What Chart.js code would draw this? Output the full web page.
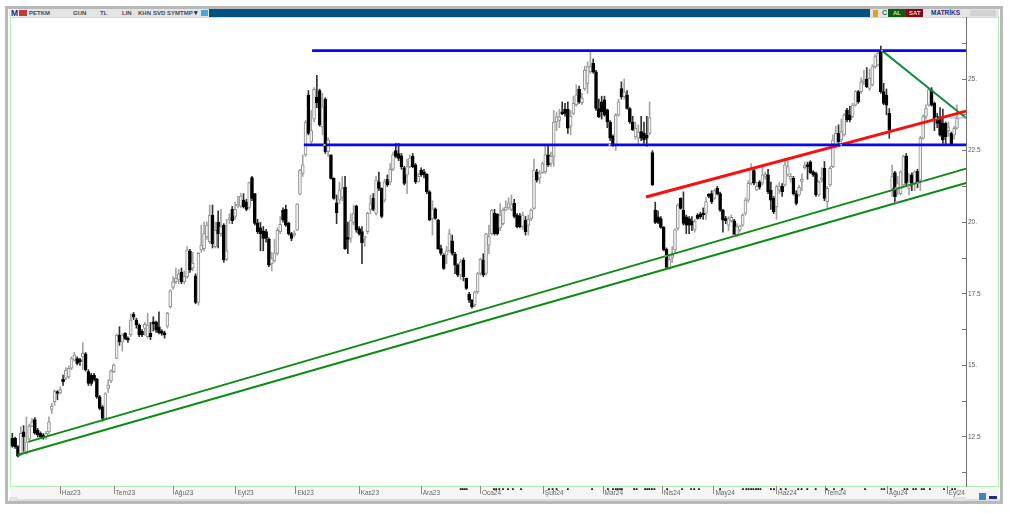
<!DOCTYPE html>
<html lang="tr">
<head>
<meta charset="utf-8">
<title>PETKM</title>
<script src="https://cdn.jsdelivr.net/npm/chart.js@4"></script>
<style>
html,body{margin:0;padding:0;background:#fff;width:1009px;height:513px;overflow:hidden}
#stage{position:absolute;left:0;top:0;width:1009px;height:513px;filter:blur(0.5px);font-family:"Liberation Sans",Arial,sans-serif}
.box{position:absolute}
.t{position:absolute;font-size:6px;font-weight:bold;line-height:8px;color:#4a4a55;white-space:nowrap}
canvas{position:absolute;left:0;top:0}
</style>
</head>
<body>
<div id="stage">
  <div class="box" style="left:5px;top:6px;width:998px;height:498px;background:#b9b9b9"></div>
  <div class="box" style="left:8px;top:9px;width:992px;height:492px;background:#fff"></div>
  <div class="box" style="left:9px;top:9px;width:990px;height:8px;background:#e4e4e4"></div>
  <div class="box" style="left:209px;top:9px;width:661px;height:8px;background:#03527f"></div>
  <div class="box" style="left:10px;top:17px;box-sizing:border-box;width:989px;height:470px;border:1px solid #b4efb4"></div>
  <div class="box" style="left:11px;top:487px;width:988px;height:12px;background:#f6f6f6"></div>
  <div class="box" style="left:9px;top:499px;width:991px;height:2px;background:#dcdcdc"></div>

  <div class="box" style="left:10px;top:9px;width:8px;height:8px;background:#f4f4f4"></div>
  <span class="t" style="left:11px;top:9px;font-size:8.5px;color:#1b2a6b">M</span>
  <div class="box" style="left:19px;top:10px;width:8px;height:6px;background:#c33a3a"></div>
  <span class="t" style="left:29px;top:9px">PETKM</span>
  <span class="t" style="left:73px;top:9px">GUN</span>
  <span class="t" style="left:100px;top:9px">TL</span>
  <span class="t" style="left:122px;top:9px">LIN</span>
  <span class="t" style="left:138px;top:9px">KHN</span>
  <span class="t" style="left:153px;top:9px">SVD</span>
  <span class="t" style="left:167px;top:9px">SYM</span>
  <span class="t" style="left:180px;top:9px">TMP</span>
  <span class="t" style="left:194px;top:9px;font-size:7px;color:#1b2a6b">▾</span>
  <div class="box" style="left:201px;top:10px;width:7px;height:6px;background:#45a9e0"></div>

  <div class="box" style="left:873px;top:10px;width:5px;height:7px;background:#e0a030"></div>
  <span class="t" style="left:882px;top:9px;font-size:7px;color:#127a50">C</span>
  <div class="box" style="left:888px;top:9px;width:18px;height:8px;background:#0d5d17"></div>
  <span class="t" style="left:893px;top:9px;color:#cfe8cf">AL</span>
  <div class="box" style="left:906px;top:9px;width:17px;height:8px;background:#7a0b18"></div>
  <span class="t" style="left:909px;top:9px;color:#f0d0d0">SAT</span>
  <span class="t" style="left:931px;top:9px;font-size:6.5px;color:#2c2c7a">MATRİKS</span>
  <div class="box" style="left:970px;top:10px;width:26px;height:6px;background:#d2d2d2"></div>

  <div class="box" style="left:979px;top:493px;width:7px;height:7px;background:#4a7fc0"></div>
  <div class="box" style="left:989px;top:496px;width:8px;height:3px;background:#1c2f80"></div>
  <div class="box" style="left:10px;top:497px;width:7px;height:4px;background:#e2e2e2"></div>
  <div class="box" style="left:953px;top:497px;width:13px;height:4px;background:#e2e2e2"></div>

  <canvas id="chart" width="1009" height="513"></canvas>
</div>
<script>
// Candle prices (TL)
const opens = [
12.45,12.45,12.16,11.87,12.68,11.93,12.42,12.88,13.11,12.74,
12.63,12.57,12.51,12.68,13.46,13.73,14.08,14.04,14.51,14.55,
14.6,14.9,15.18,15.24,15.18,15.3,15.4,14.78,14.66,14.66,
14.51,13.9,13.55,13.15,14.2,14.46,14.78,15.24,16.06,15.82,
16.12,15.94,16.06,16.79,16.58,16.41,16.2,16.29,16.0,16.12,
16.52,16.52,16.35,16.2,16.14,16.37,17.05,17.72,17.92,18.0,
18.25,17.92,18.1,18.99,18.4,18.13,17.2,19.03,19.08,19.49,
19.32,20.25,19.15,20.0,19.6,19.9,18.7,20.08,20.45,20.2,
20.56,20.56,20.77,20.71,20.52,21.56,21.0,19.98,19.8,19.7,
19.67,19.4,18.55,18.65,18.91,19.67,20.42,20.45,19.96,19.6,
19.55,19.72,20.98,21.7,22.35,24.44,22.8,23.6,24.36,24.6,
23.33,24.3,22.46,22.35,21.53,20.68,20.77,20.87,21.22,19.45,
19.43,19.98,20.56,19.78,19.67,19.43,19.67,20.43,20.83,20.31,
21.41,21.18,20.77,21.5,21.41,21.85,22.5,22.4,22.32,21.9,
21.65,21.94,22.3,22.0,21.41,21.82,21.76,21.68,21.06,20.13,
20.47,20.07,19.08,18.85,18.85,19.0,19.35,18.89,18.5,18.15,
18.68,18.04,17.48,17.28,17.12,17.57,18.21,18.68,18.21,19.2,
19.6,20.31,20.28,19.8,19.95,20.42,20.5,20.45,20.66,20.25,
20.21,19.85,20.07,19.9,20.13,20.48,21.76,21.55,21.73,21.76,
22.35,22.05,22.3,23.5,23.55,23.83,23.95,23.94,23.35,23.8,
24.1,24.65,24.17,24.65,24.85,25.25,25.55,25.25,23.97,24.2,
24.27,23.92,23.5,23.0,22.7,23.74,24.67,24.38,24.44,23.97,
23.5,22.98,22.93,23.16,23.1,23.04,23.1,22.43,20.42,20.19,
20.13,19.82,19.05,18.39,18.77,19.03,19.78,20.83,20.42,20.19,
20.13,20.05,19.73,20.25,20.28,20.33,20.31,20.95,21.0,20.83,
21.18,21.0,20.42,20.13,19.9,20.05,20.05,19.55,19.73,19.9,
20.31,20.77,21.36,21.8,21.12,21.41,21.36,21.6,21.65,21.12,
20.83,20.54,21.12,21.26,21.3,21.65,21.5,21.53,21.0,20.95,
21.42,21.9,21.98,22.11,21.76,21.7,20.95,21.47,21.88,20.72,
21.3,21.94,22.7,23.1,22.87,23.05,23.92,23.74,23.69,24.09,
24.56,24.56,24.9,25.0,24.67,24.79,25.43,25.49,26.0,24.56,
24.44,23.8,21.18,21.73,21.18,21.0,21.3,22.31,21.18,21.65,
21.36,21.78,21.47,22.93,23.69,24.09,24.62,24.15,23.69,23.63,
23.45,23.45,23.2,23.1,23.04,23.28];
const highs = [
12.63,12.5,12.2,12.86,12.9,13.2,12.95,13.15,13.18,12.8,
12.68,12.62,12.7,13.2,13.68,14.15,14.12,14.25,14.66,14.92,
14.98,15.3,15.46,15.3,15.25,15.79,15.45,14.85,14.72,14.72,
14.55,13.95,13.6,14.05,14.5,14.85,15.05,16.1,16.35,16.1,
16.15,16.0,16.8,16.85,16.65,16.45,16.25,16.5,16.82,16.5,
16.7,16.55,16.87,16.25,16.2,16.85,17.65,18.1,18.4,18.35,
18.4,18.3,19.15,19.05,18.95,18.2,18.95,19.9,20.0,20.0,
20.6,20.6,20.0,20.4,20.45,19.95,20.1,20.3,20.55,20.7,
20.9,21.0,21.0,20.8,21.4,21.6,21.0,20.1,20.0,19.85,
19.75,19.45,18.95,19.4,19.8,20.2,20.5,20.6,20.0,19.65,
19.7,20.65,21.85,22.35,23.55,24.6,23.9,24.7,25.13,24.65,
24.5,24.35,22.95,22.35,21.55,20.95,21.4,21.6,21.6,20.0,
20.3,20.6,20.6,19.85,19.85,19.5,20.35,20.95,21.0,21.6,
21.75,21.2,21.5,21.65,22.05,22.45,22.75,22.75,22.4,21.95,
22.2,22.35,22.4,22.05,21.7,21.9,21.85,21.7,21.1,20.75,
20.5,20.1,19.2,18.9,19.15,19.75,19.55,18.95,18.55,18.7,
18.75,18.05,17.55,17.3,17.6,18.25,18.75,18.9,19.62,19.9,
20.45,20.45,20.3,20.65,20.5,20.75,20.85,20.95,20.8,20.3,
20.3,20.35,20.2,20.25,20.47,22.2,21.85,21.8,22.1,22.7,
22.7,22.45,23.9,23.85,23.95,24.2,24.15,24.2,23.9,24.4,
24.8,24.75,24.5,25.45,25.6,26.0,25.7,25.3,24.3,24.4,
24.4,23.95,23.55,23.05,23.8,24.3,24.9,25.0,24.6,24.0,
23.7,23.5,23.4,23.7,23.5,23.7,24.2,22.5,20.7,20.4,
20.2,19.85,19.1,18.8,19.15,19.78,20.65,20.85,21.06,20.25,
20.2,20.2,20.1,20.3,20.35,20.5,20.85,21.0,21.1,21.15,
21.25,21.05,20.45,20.2,20.2,20.25,20.1,19.95,19.9,20.3,
20.85,21.45,22.05,21.85,21.4,21.45,22.0,21.75,21.85,21.4,
20.9,21.3,21.4,21.35,22.23,22.2,21.7,21.6,21.1,21.3,
21.7,22.1,22.1,22.15,21.8,21.75,21.45,21.9,22.12,21.25,
21.95,23.05,23.35,23.4,23.6,23.8,23.98,24.05,24.15,24.6,
24.6,25.05,25.3,25.4,25.35,25.5,25.85,26.0,26.15,24.85,
24.65,23.97,22.0,21.78,21.6,21.8,22.35,22.4,21.7,21.72,
21.8,21.85,23.0,23.75,24.1,24.7,24.7,24.2,23.8,24.0,
23.95,23.5,23.5,23.15,23.35,24.1];
const lows = [
12.14,12.1,11.8,11.85,12.0,11.9,12.4,12.85,12.6,12.5,
12.45,12.42,12.42,12.6,13.32,13.6,13.8,14.0,14.3,14.5,
14.55,14.85,15.15,15.02,15.0,14.85,14.8,14.3,14.3,14.45,
13.85,13.45,13.05,13.1,14.05,14.4,14.75,15.24,15.7,15.5,
15.9,15.8,16.0,16.6,16.3,16.0,16.0,16.05,15.95,15.9,
16.2,16.15,16.1,16.05,15.95,16.3,17.0,17.65,17.85,17.85,
17.85,17.85,18.05,18.25,18.3,17.15,17.1,18.95,19.0,19.4,
19.25,19.1,19.1,19.1,19.5,18.6,18.65,19.95,19.95,20.1,
20.5,20.5,20.5,20.4,20.45,20.75,19.9,19.6,19.0,19.0,
19.3,18.45,18.3,18.6,18.85,19.6,20.0,19.85,19.55,19.35,
19.5,19.7,20.95,21.6,22.3,23.05,22.75,23.5,24.0,23.35,
23.05,22.4,22.3,21.5,20.8,19.95,20.65,20.75,19.05,18.9,
19.3,19.9,19.65,19.55,18.55,19.15,19.6,20.3,20.4,20.25,
21.1,20.15,20.7,21.25,21.3,21.8,22.25,22.15,21.85,21.3,
21.0,21.9,21.9,21.35,21.4,21.6,21.55,21.0,20.05,19.55,
20.1,19.05,18.85,18.35,18.55,18.95,18.85,18.2,18.1,18.0,
17.95,17.65,17.2,17.0,17.05,17.5,18.15,18.1,18.15,18.9,
19.55,19.55,19.55,19.7,19.9,20.4,20.45,20.4,20.15,19.8,
19.8,19.75,19.55,19.55,20.05,20.45,21.4,21.35,21.7,21.7,
21.95,21.95,21.95,23.2,23.3,23.75,23.7,23.1,23.05,23.75,
24.05,24.15,24.1,24.6,24.5,25.2,25.2,23.9,23.65,23.6,
23.7,23.3,22.85,22.65,22.5,23.7,24.3,24.3,23.95,23.45,
23.2,22.9,22.75,22.85,22.75,22.65,23.05,21.28,19.95,19.95,
19.78,19.0,18.4,18.35,18.6,18.95,19.72,20.45,19.9,19.6,
19.6,19.7,19.65,20.1,20.12,20.1,20.1,20.85,20.65,20.8,
20.95,20.38,19.65,19.95,19.7,20.0,19.5,19.5,19.65,19.85,
20.25,20.7,21.3,21.3,21.1,21.15,21.3,21.5,21.0,20.45,
20.3,20.1,21.0,20.9,21.25,21.6,21.4,20.95,20.6,20.9,
21.1,21.85,21.5,21.7,21.6,20.9,20.9,21.4,20.75,20.5,
21.25,21.9,22.6,22.65,22.8,23.0,23.5,23.5,23.65,24.05,
24.15,24.5,24.8,24.7,24.6,24.75,25.38,25.45,24.5,24.1,
23.75,22.93,20.9,20.7,20.95,20.95,21.25,21.25,20.95,21.1,
21.1,21.2,21.1,22.9,23.6,24.05,24.05,23.2,23.3,23.0,
22.75,22.7,23.0,22.7,22.9,23.25];
const closes = [
12.18,12.16,11.83,12.63,12.51,12.33,12.88,13.03,12.63,12.57,
12.51,12.47,12.63,13.03,13.58,14.1,14.02,14.16,14.43,14.84,
14.9,15.24,15.36,15.07,15.13,15.42,14.84,14.37,14.37,14.51,
13.9,13.5,13.15,14.02,14.31,14.8,15.01,16.06,15.82,16.06,
15.94,15.88,16.58,16.68,16.41,16.06,16.06,16.43,16.41,16.0,
16.44,16.23,16.14,16.12,16.06,16.82,17.6,17.92,18.04,18.2,
17.92,18.1,19.03,18.33,18.56,17.2,18.91,19.2,19.6,19.9,
20.25,19.24,19.72,19.6,19.84,18.68,19.0,20.14,20.05,20.45,
20.6,20.91,20.54,20.45,21.38,20.83,19.96,19.67,19.6,19.43,
19.43,18.5,18.73,18.93,19.72,19.93,20.08,19.9,19.6,19.43,
19.6,20.63,21.82,22.0,23.5,23.1,23.2,24.64,24.17,23.4,
24.03,22.46,22.87,21.53,20.83,20.33,21.12,21.2,19.08,19.4,
20.07,20.3,19.73,19.6,19.28,19.45,20.31,20.65,20.45,21.47,
21.18,20.2,21.41,21.3,21.85,22.35,22.3,22.23,21.94,21.35,
21.94,22.25,21.94,21.41,21.6,21.65,21.65,21.06,20.08,20.47,
20.13,19.08,18.91,18.39,19.0,19.6,18.91,18.5,18.15,18.62,
18.1,17.69,17.28,17.05,17.57,18.21,18.7,18.16,19.59,19.5,
20.42,19.6,19.6,20.25,20.42,20.53,20.68,20.63,20.2,19.84,
19.84,20.25,19.67,20.1,20.42,21.82,21.47,21.7,22.05,22.35,
22.0,22.3,23.5,23.68,23.68,23.78,23.8,23.28,23.7,24.15,
24.45,24.2,24.33,25.3,25.43,25.43,25.25,23.97,23.68,23.85,
23.74,23.5,22.93,22.7,23.74,24.2,24.38,24.55,23.97,23.5,
23.22,23.28,23.15,22.93,22.87,22.93,23.65,21.3,19.99,19.99,
19.82,19.03,18.42,18.7,18.85,19.73,20.6,20.48,19.96,19.9,
19.9,19.9,20.02,20.13,20.19,20.25,20.72,20.9,20.72,21.1,
21.0,20.42,20.07,20.05,20.13,20.17,19.55,19.85,19.87,20.25,
20.77,21.36,21.88,21.36,21.26,21.22,21.65,21.65,21.07,20.77,
20.37,21.24,21.26,21.07,22.0,21.94,21.6,21.0,20.66,21.22,
21.5,21.98,21.94,21.73,21.65,20.95,21.4,21.5,20.83,21.18,
21.88,22.87,23.1,22.81,23.16,23.74,23.57,23.57,24.09,24.56,
24.21,24.9,24.95,24.73,25.02,25.43,25.78,25.9,24.56,24.15,
24.09,23.22,21.59,20.89,21.35,21.76,22.29,21.36,21.41,21.36,
21.76,21.41,22.93,23.69,23.97,24.62,24.09,23.57,23.45,23.04,
22.87,22.99,23.3,22.73,23.28,23.63];

// Axis ticks
const monthLabels = ['Haz23','Tem23','Ağu23','Eyl23','Eki23','Kas23','Ara23','Oca24','Şub24','Mar24','Nis24','May24','Haz24','Tem24','Ağu24','Eyl24'];
const monthAt = [17,36.1,57,79.3,100.6,123,145,166,188.3,209.5,230.5,248.8,271,288.2,310.3,331.5];
const priceTicks = [11.25,12.5,13.75,15,16.25,17.5,18.75,20,21.25,22.5,23.75,25,26.25];
const priceLabels = {12.5:'12.5',15:'15.',17.5:'17.5',20:'20.',22.5:'22.5',25:'25.'};

// Trend lines drawn on the chart: [candle position, price]
const resistanceTop = [[106.3,25.99],[338.2,25.99]];
const resistanceMid = [[103.4,22.7],[338.2,22.7]];
const supportUpper = [[5.6,12.33],[338.2,21.87]];
const supportLower = [[1.8,11.87],[338.2,21.37]];
const channelRed = [[224.7,20.88],[338.2,23.88]];
const fallingLine = [[308.4,25.99],[338.2,23.64]];
const lastPrice = [[332.6,23.64],[338.2,23.64]];

// Coloured anchor dots and date markers under the chart
const anchorPoints = [[110.7,22.7],[211.8,22.7],[308.4,25.99],[327.6,23.64],[293.9,22.7],[231.7,18.82],[255.9,19.55],[313.2,21.19],[313.4,20.7],[317.6,21.26],[321.1,21.37],[322.9,21.44]];
const anchorColors = ['#f4ef20','#f4ef20','#e8c020','#20d8d8','#50e050','#d070d8','#d070d8','#d070d8','#d070d8','#d070d8','#d070d8','#d070d8'];
const markAt = [159,159.7,160.4,161.1,170.8,171.6,172.7,174,175.8,177.5,180.4,190.3,191.6,193,197,205.6,211.2,213,214,214.7,215.5,216.2,220.5,221.4,224.4,225.2,225.9,226.8,227.7,232.2,237.5,240.7,241.8,243.5,251,259.1,260.3,261.1,262,262.8,263.7,264.5,265.3,269,270.1,272.5,274.3,278.7,279.9,281.9,284.9,288.8,291.4,294.3,302.4,308.3,309.2,311.5,316.4,317.4,319.5,320.4,322.5,323.3,325.4,330.4,333.3,334.3];
const markLevel = 10.68;

const isUp = closes.map((c,i)=>c>=opens[i]);
const pts = a => a.map(p=>({x:p[0],y:p[1]}));
const line = (a,color,width) => ({type:'scatter',showLine:true,data:pts(a),borderColor:color,backgroundColor:color,borderWidth:width,pointRadius:0,order:1,clip:false});

new Chart(document.getElementById('chart'),{
  type:'bar',
  data:{datasets:[
    {label:'wick',data:highs.map((h,i)=>({x:i,y:[lows[i],h]})),barThickness:1,grouped:false,order:4,
     backgroundColor:isUp.map(u=>u?'#a4a4a4':'#333'),borderWidth:0},
    {label:'body',data:opens.map((o,i)=>({x:i,y:[o,closes[i]]})),barThickness:3,grouped:false,order:3,minBarLength:2,
     backgroundColor:isUp.map(u=>u?'#f2f2f2':'#000'),borderColor:isUp.map(u=>u?'#909090':'#000'),borderWidth:1,borderSkipped:false},
    line(lastPrice,'#a8a8e8',1),
    line(resistanceTop,'#0606fa',2.8),
    line(resistanceMid,'#0606fa',2.8),
    line(supportUpper,'#0c8c14',2),
    line(supportLower,'#0c8c14',2),
    line(channelRed,'#f81010',3),
    line(fallingLine,'#178a4a',2),
    {type:'scatter',label:'anchors',data:pts(anchorPoints),pointRadius:1.3,pointStyle:'rect',borderWidth:0,backgroundColor:anchorColors,order:0},
    {type:'scatter',label:'marks',data:markAt.map(x=>({x,y:markLevel})),pointRadius:1.3,pointStyle:'rect',borderWidth:0,backgroundColor:'#222',order:0,clip:false}
  ]},
  options:{
    responsive:false,animation:false,events:[],
    layout:{padding:{left:10,top:17,right:11,bottom:9}},
    plugins:{legend:{display:false},tooltip:{enabled:false}},
    scales:{
      x:{type:'linear',min:-0.816,max:338.2,offset:false,
        afterBuildTicks:s=>{s.ticks=monthAt.map(v=>({value:v}));},
        afterFit:s=>{s.height=18;},
        grid:{offset:false,drawOnChartArea:false,tickLength:8,color:'#8a8a8a'},
        border:{display:false},
        ticks:{autoSkip:false,maxRotation:0,align:'start',labelOffset:1.5,padding:-5,color:'#666',font:{size:6.5,family:'"Liberation Sans",Arial,sans-serif'},
          callback:v=>monthLabels[monthAt.indexOf(v)]??''}},
      y:{type:'linear',position:'right',min:10.789,max:27.165,
        afterBuildTicks:s=>{s.ticks=priceTicks.map(v=>({value:v}));},
        afterFit:s=>{s.width=32;},
        grid:{drawOnChartArea:false,tickLength:-4,color:'#777'},
        border:{display:true,color:'#707070',width:1},
        ticks:{autoSkip:false,padding:6,color:'#5a5a5a',font:{size:6.5,family:'"Liberation Sans",Arial,sans-serif'},
          callback:v=>priceLabels[v]??''}}
    }
  }
});
</script>
</body>
</html>
